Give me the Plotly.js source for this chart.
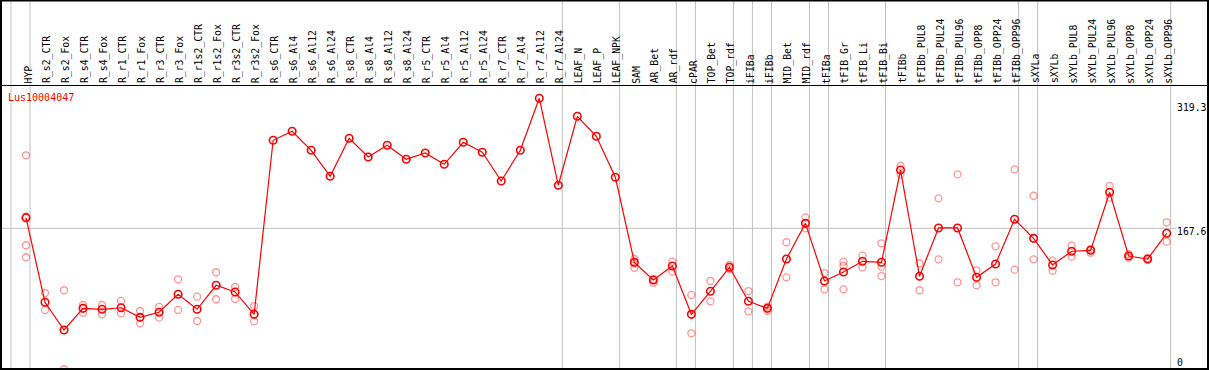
<!DOCTYPE html>
<html>
<head>
<meta charset="utf-8">
<script src="https://cdn.plot.ly/plotly-3.0.1.min.js"></script>
<style>html,body{margin:0;padding:0;background:#fff;}#chart{width:1209px;height:370px;}</style>
</head>
<body>
<div id="chart"></div>
<script>
var categories = ["HYP","R_s2_CTR","R_s2_Fox","R_s4_CTR","R_s4_Fox","R_r1_CTR","R_r1_Fox","R_r3_CTR","R_r3_Fox","R_r1s2_CTR","R_r1s2_Fox","R_r3s2_CTR","R_r3s2_Fox","R_s6_CTR","R_s6_Al4","R_s6_Al12","R_s6_Al24","R_s8_CTR","R_s8_Al4","R_s8_Al12","R_s8_Al24","R_r5_CTR","R_r5_Al4","R_r5_Al12","R_r5_Al24","R_r7_CTR","R_r7_Al4","R_r7_Al12","R_r7_Al24","LEAF_N","LEAF_P","LEAF_NPK","SAM","AR_Bet","AR_rdf","cPAR","TOP_Bet","TOP_rdf","iFIBa","iFIBb","MID_Bet","MID_rdf","tFIBa","tFIB_Gr","tFIB_Li","tFIB_Bi","tFIBb","tFIBb_PUL8","tFIBb_PUL24","tFIBb_PUL96","tFIBb_OPP8","tFIBb_OPP24","tFIBb_OPP96","sXYLa","sXYLb","sXYLb_PUL8","sXYLb_PUL24","sXYLb_PUL96","sXYLb_OPP8","sXYLb_OPP24","sXYLb_OPP96"];

var meanValues = [180.0,81.3,48.9,74.2,73.1,74.9,63.7,69.6,90.6,73.1,101.1,93.3,67.2,270.3,280.8,258.6,228.3,272.6,250.8,264.5,248.1,255.5,242.3,268.0,256.3,222.8,258.6,319.3,217.8,298.3,275.0,227.1,127.9,107.3,123.6,67.2,94.1,122.1,82.4,74.2,131.8,173.4,106.1,116.6,129.1,127.9,235.6,111.6,168.0,168.0,110.4,125.9,178.1,155.9,124.8,140.8,141.9,209.6,135.3,131.8,161.8];

var rep1 = [252.8,92.1,95.3,78.1,78.1,82.8,71.1,75.8,108.1,87.8,116.3,99.1,76.9,null,null,null,null,null,null,null,null,null,null,null,null,null,null,null,null,null,null,null,131.8,108.4,128.6,89.8,106.1,124.8,94.4,76.1,151.3,180.4,115.4,128.6,135.6,150.1,240.3,126.8,202.6,230.6,118.6,146.6,236.4,205.6,129.8,147.3,143.4,217.0,137.3,132.7,174.6];
var rep2 = [147.8,72.3,3.1,69.1,67.2,68.4,56.7,63.3,72.3,59.4,84.8,85.1,59.1,null,null,null,null,null,null,null,null,null,null,null,null,null,null,null,null,null,null,null,121.6,104.1,117.0,45.1,82.4,120.1,70.7,71.4,110.4,167.6,96.4,96.4,122.1,111.9,230.6,95.3,131.4,104.6,101.1,104.6,119.3,131.4,118.1,134.5,139.1,203.3,133.3,130.9,152.0];
var rep3Cats = ["HYP","HYP","SAM","tFIB_Gr","tFIB_Bi"];
var rep3 = [181.1,133.8,126.8,123.6,122.8];

var groupEnds = [-1,0,28,31,34,35,37,38,39,41,42,45,52,53,60];
var scaleLabels = ["319.3","167.6","0"];
var refLine = 167.6;
var geneName = "Lus10004047";

var W = 1209, H = 370;
var x0px = 26, step = 19.011;
var xr = [-x0px/step, (W - x0px)/step];
var k = 130/151.7;            // px per unit
var yAtRef = 228.3;           // pixel row of the reference line
var yr = [refLine - (H - yAtRef)/k, refLine + yAtRef/k];
function py(p){ return (H - p)/H; }

var mono = "DejaVu Sans Mono";
var traces = [];
var repStyle = {symbol:"circle-open", size:7, color:"rgba(255,0,0,0.42)", line:{width:1.3, color:"rgba(255,0,0,0.42)"}};
traces.push({x:categories, y:rep1, mode:"markers", type:"scatter", marker:repStyle, hoverinfo:"skip", showlegend:false});
traces.push({x:categories, y:rep2, mode:"markers", type:"scatter", marker:repStyle, hoverinfo:"skip", showlegend:false});
traces.push({x:rep3Cats, y:rep3, mode:"markers", type:"scatter", marker:repStyle, hoverinfo:"skip", showlegend:false});
traces.push({x:categories, y:meanValues, mode:"lines+markers", type:"scatter",
  line:{color:"#ff0000", width:1.2},
  marker:{symbol:"circle-open", size:7.5, color:"#ff0000", line:{width:1.6, color:"#ff0000"}},
  showlegend:false});

var shapes = [];
groupEnds.forEach(function(g){
  shapes.push({type:"line", xref:"x", yref:"paper", x0:g+0.211, x1:g+0.211, y0:0, y1:1, layer:"below",
    line:{color:"#c0c0c0", width:1}});
});
shapes.push({type:"line", xref:"paper", yref:"y", x0:0, x1:1176/W, y0:refLine, y1:refLine, layer:"below",
  line:{color:"#c0c0c0", width:1}});
shapes.push({type:"line", xref:"paper", yref:"paper", x0:0, x1:1, y0:py(85.5), y1:py(85.5),
  line:{color:"#000", width:1}});
shapes.push({type:"rect", xref:"paper", yref:"paper", x0:1/W, x1:1208/W, y0:py(369), y1:py(0.5),
  line:{color:"#000", width:2}, fillcolor:"rgba(0,0,0,0)"});

var annotations = [];
categories.forEach(function(c){
  annotations.push({x:c, xref:"x", xshift:2, y:py(83.5), yref:"paper", text:c, showarrow:false, textangle:-90,
    xanchor:"center", yanchor:"bottom", borderpad:0, borderwidth:0,
    font:{family:mono, size:9.8, color:"#000"}});
});
var scalePos = [107, 231.5, 362];
scaleLabels.forEach(function(t, i){
  annotations.push({x:1177/W, xref:"paper", y:py(scalePos[i]), yref:"paper", text:t, showarrow:false,
    xanchor:"left", yanchor:"middle", borderpad:0, borderwidth:0, bgcolor:"#fff",
    font:{family:mono, size:9.8, color:"#000"}});
});
annotations.push({x:8/W, xref:"paper", y:py(97), yref:"paper", text:geneName, showarrow:false,
  xanchor:"left", yanchor:"middle", borderpad:0, borderwidth:0,
  font:{family:mono, size:10, color:"#ff0000"}});

var layout = {
  width:W, height:H, margin:{l:0, r:0, t:0, b:0, pad:0},
  paper_bgcolor:"#fff", plot_bgcolor:"#fff",
  xaxis:{type:"category", range:xr, visible:false, showgrid:false, zeroline:false, fixedrange:true},
  yaxis:{range:yr, visible:false, showgrid:false, zeroline:false, fixedrange:true},
  shapes:shapes, annotations:annotations, showlegend:false
};
Plotly.newPlot("chart", traces, layout, {staticPlot:true, displayModeBar:false});
</script>
</body>
</html>
